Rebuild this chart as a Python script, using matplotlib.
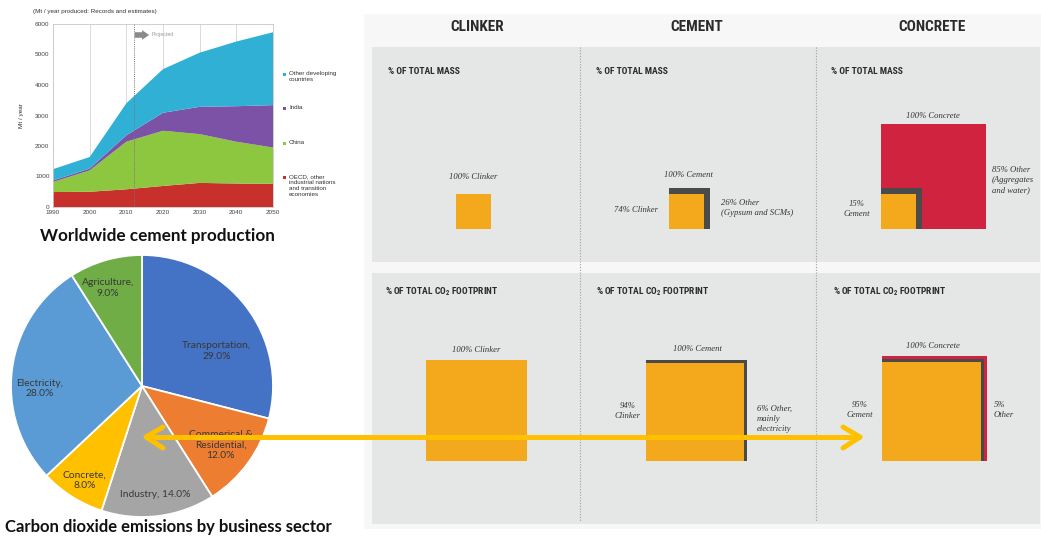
import numpy as np
import matplotlib
matplotlib.use("Agg")
import matplotlib.pyplot as plt
from matplotlib.patches import Rectangle
from matplotlib.lines import Line2D
from matplotlib import font_manager

# ---------------- data ----------------
# Worldwide cement production, Mt / year (stacked by region)
years = [1990, 2000, 2010, 2020, 2030, 2040, 2050]
oecd = [490, 500, 580, 690, 790, 770, 760]
china = [330, 700, 1560, 1810, 1600, 1370, 1190]
india = [50, 60, 210, 590, 895, 1165, 1390]
other_dev = [370, 380, 1050, 1430, 1775, 2120, 2390]
region_labels = ["OECD, other\nindustrial nations\nand transition\neconomies",
                 "China", "India", "Other developing\ncountries"]
year_ticks = [1990, 2000, 2010, 2020, 2030, 2040, 2050]
mt_ticks = [0, 1000, 2000, 3000, 4000, 5000, 6000]
projection_start = 2012

# CO2 emissions by business sector, %
sectors = ["Transportation", "Commerical &\nResidential", "Industry",
           "Concrete", "Electricity", "Agriculture"]
sector_share = [29.0, 12.0, 14.0, 8.0, 28.0, 9.0]

# Clinker -> cement -> concrete composition, %
stages = ["CLINKER", "CEMENT", "CONCRETE"]
clinker_in_cement_mass = 74
cement_in_concrete_mass = 15
clinker_in_cement_co2 = 94
cement_in_concrete_co2 = 95

# ---------------- fonts ----------------
_names = {f.name for f in font_manager.fontManager.ttflist}
COND = next((n for n in ["Roboto Condensed", "Liberation Sans Narrow",
                         "Open Sans Condensed"] if n in _names), None)
if COND is None:
    head_font = dict(family="DejaVu Sans", stretch="condensed")
else:
    head_font = dict(family=COND)
SERIF = dict(family="Liberation Serif", style="italic", color="#333333")
plt.rcParams["font.family"] = ["Liberation Sans", "DejaVu Sans"]

W, H = 1041, 538
fig = plt.figure(figsize=(W / 100, H / 100), dpi=100)


def px_axes(left, top, right, bottom, **kw):
    return fig.add_axes([left / W, 1 - bottom / H, (right - left) / W,
                         (bottom - top) / H], **kw)


# ---------------- stacked area chart ----------------
ax1 = px_axes(53, 24, 273, 207, zorder=1)
area_colors = ["#c8302c", "#8dc63f", "#7b52a6", "#31b0d5"]
ax1.stackplot(years, oecd, china, india, other_dev, colors=area_colors,
              linewidth=0, zorder=2)
ax1.set_xlim(1990, 2050)
ax1.set_ylim(0, 6000)
ax1.set_xticks(year_ticks)
ax1.set_yticks(mt_ticks)
ax1.tick_params(length=0, labelsize=4.6, labelcolor="#444444", pad=2.5)
ax1.grid(axis="x", color="#d4d4d4", lw=0.6, zorder=0)
ax1.set_axisbelow(True)
for s in ax1.spines.values():
    s.set_color("#c8c8c8")
    s.set_linewidth(0.6)
ax1.axvline(projection_start, color="#777777", lw=0.7, ls=(0, (1, 1.2)), zorder=3)
ax1.annotate("", xy=(projection_start + 4.2, 5640), xytext=(projection_start + 0.3, 5640),
             arrowprops=dict(arrowstyle="simple,head_width=0.7,head_length=0.5,tail_width=0.4",
                             color="#8a8a8a", lw=0, shrinkA=0, shrinkB=0), zorder=4)
ax1.text(projection_start + 4.8, 5640, "Projected", fontsize=3.8, color="#9a9a9a",
         va="center", ha="left")
ax1.set_ylabel("Mt / year", fontsize=4.6, color="#333333", labelpad=8)

# ---------------- pie chart ----------------
ax2 = px_axes(142 - 131, 386 - 131, 142 + 131, 386 + 131, zorder=1)
pie_colors = ["#4472c4", "#ed7d31", "#a5a5a5", "#ffc000", "#5b9bd5", "#70ad47"]
ax2.pie(sector_share, colors=pie_colors, startangle=90, counterclock=False,
        radius=1.0, wedgeprops=dict(edgecolor="white", linewidth=1.3))
ax2.set_xlim(-1.0, 1.0)
ax2.set_ylim(-1.0, 1.0)
ax2.set_aspect("equal")
ax2.axis("off")
label_pos = [(0.57, 0.27), (0.60, -0.45), (0.10, -0.83),
             (-0.44, -0.72), (-0.78, -0.02), (-0.26, 0.75)]
for name, share, (lx, ly) in zip(sectors, sector_share, label_pos):
    sep = " " if name == "Industry" else "\n"
    ax2.text(lx, ly, f"{name},{sep}{share:.1f}%", ha="center", va="center",
             fontsize=7.4, color="#383838", family="Lato", linespacing=1.25)

# ---------------- overlay in pixel space ----------------
ov = fig.add_axes([0, 0, 1, 1], zorder=3)
ov.set_xlim(0, W)
ov.set_ylim(H, 0)
ov.axis("off")

# left titles
ov.text(33, 12, "(Mt / year produced: Records and estimates)", fontsize=4.5,
        color="#333333", ha="left", va="center")
ov.text(157, 236, "Worldwide cement production", fontsize=12.3, weight="bold",
        family="Lato", color="#111111", ha="center", va="center")
ov.text(168, 527, "Carbon dioxide emissions by business sector", fontsize=12,
        weight="bold", family="Lato", color="#111111", ha="center", va="center")

# area chart legend (top to bottom)
leg_tops = [71, 105, 140, 174]
for lab, col, top in zip(region_labels[::-1], area_colors[::-1], leg_tops):
    ov.add_patch(Rectangle((283, top + 2), 3, 3, fc=col, ec="none"))
    ov.text(289, top, lab, fontsize=4.5, color="#333333", ha="left", va="top",
            linespacing=1.25)

# infographic panels
ov.add_patch(Rectangle((364, 14), W - 364, 529 - 14, fc="#f7f7f7", ec="none"))
ov.add_patch(Rectangle((372, 47), 1040 - 372, 262 - 47, fc="#e5e6e6", ec="none"))
ov.add_patch(Rectangle((372, 273), 1040 - 372, 524 - 273, fc="#e5e6e6", ec="none"))
for xs in (580, 816):
    ov.add_line(Line2D([xs, xs], [47, 522], color="#a0a0a0", lw=0.8, ls=(0, (1, 1.5))))

head_x = [477, 697, 932]
for name, hx in zip(stages, head_x):
    ov.text(hx, 27, name, fontsize=11, weight="bold", color="#2b2b2b",
            ha="center", va="center", **head_font)
for sx in (388, 596, 831):
    ov.text(sx, 72, "% OF TOTAL MASS", fontsize=6.8, weight="bold", color="#2b2b2b",
            ha="left", va="center", **head_font)
for sx in (385, 596, 833):
    ov.text(sx, 292, r"% OF TOTAL CO$_\mathregular{2}$ FOOTPRINT", fontsize=6.8,
            weight="bold", color="#2b2b2b", ha="left", va="center", **head_font)

ORANGE, DARK, RED = "#f3a91b", "#4a4a4a", "#d0233f"


def nested(left, base, layers):
    """Draw squares sharing their lower-left corner, largest first."""
    for side, col in layers:
        ov.add_patch(Rectangle((left, base - side), side, side, fc=col, ec="none"))


# mass row: square area proportional to share of the concrete mass
S_MASS = 105
f_cem = cement_in_concrete_mass / 100
f_clk = f_cem * clinker_in_cement_mass / 100
nested(456, 229, [(S_MASS * np.sqrt(f_clk), ORANGE)])
nested(669, 229, [(S_MASS * np.sqrt(f_cem), DARK), (S_MASS * np.sqrt(f_clk), ORANGE)])
nested(881, 229, [(S_MASS, RED), (S_MASS * np.sqrt(f_cem), DARK),
                  (S_MASS * np.sqrt(f_clk), ORANGE)])

# CO2 row: each column normalised to its own footprint
S_CO2 = 101
S_CO2_CONC = 105
g_clk = clinker_in_cement_co2 / 100
g_cem = cement_in_concrete_co2 / 100
nested(426, 461, [(S_CO2, ORANGE)])
nested(646, 461, [(S_CO2, DARK), (S_CO2 * np.sqrt(g_clk), ORANGE)])
nested(882, 461, [(S_CO2_CONC, RED), (S_CO2_CONC * np.sqrt(g_cem), DARK),
                  (S_CO2_CONC * np.sqrt(g_cem * g_clk), ORANGE)])

fs = 6.2
# mass row labels
ov.text(473, 177, "100% Clinker", fontsize=fs, ha="center", va="center", **SERIF)
ov.text(688, 175, "100% Cement", fontsize=fs, ha="center", va="center", **SERIF)
ov.text(658, 210, f"{clinker_in_cement_mass}% Clinker", fontsize=fs, ha="right",
        va="center", **SERIF)
ov.text(721, 208, f"{100 - clinker_in_cement_mass}% Other\n(Gypsum and SCMs)",
        fontsize=fs, ha="left", va="center", linespacing=1.3, **SERIF)
ov.text(933, 116, "100% Concrete", fontsize=fs, ha="center", va="center", **SERIF)
ov.text(857, 209, f"{cement_in_concrete_mass}%\nCement", fontsize=fs, ha="center",
        va="center", linespacing=1.3, **SERIF)
ov.text(992, 180, f"{100 - cement_in_concrete_mass}% Other\n(Aggregates\nand water)",
        fontsize=fs, ha="left", va="center", linespacing=1.3, **SERIF)

# CO2 row labels
ov.text(476, 350, "100% Clinker", fontsize=fs, ha="center", va="center", **SERIF)
ov.text(697, 349, "100% Cement", fontsize=fs, ha="center", va="center", **SERIF)
ov.text(628, 411, f"{clinker_in_cement_co2}%\nClinker", fontsize=fs, ha="center",
        va="center", linespacing=1.3, **SERIF)
ov.text(757, 419, f"{100 - clinker_in_cement_co2}% Other,\nmainly\nelectricity",
        fontsize=fs, ha="left", va="center", linespacing=1.3, **SERIF)
ov.text(933, 346, "100% Concrete", fontsize=fs, ha="center", va="center", **SERIF)
ov.text(860, 410, f"{cement_in_concrete_co2}%\nCement", fontsize=fs, ha="center",
        va="center", linespacing=1.3, **SERIF)
ov.text(994, 410, f"{100 - cement_in_concrete_co2}%\nOther", fontsize=fs, ha="left",
        va="center", linespacing=1.3, **SERIF)

# double-headed connector from the concrete slice to the concrete column
ARROW = "#ffc000"
kw = dict(color=ARROW, lw=3.6, solid_capstyle="round", solid_joinstyle="round", zorder=10)
ov.add_line(Line2D([147, 859], [437, 437], **kw))
ov.add_line(Line2D([163, 146, 163], [427, 437, 448], **kw))
ov.add_line(Line2D([843, 860, 843], [427, 437, 448], **kw))

fig.savefig("out.png", dpi=100)
